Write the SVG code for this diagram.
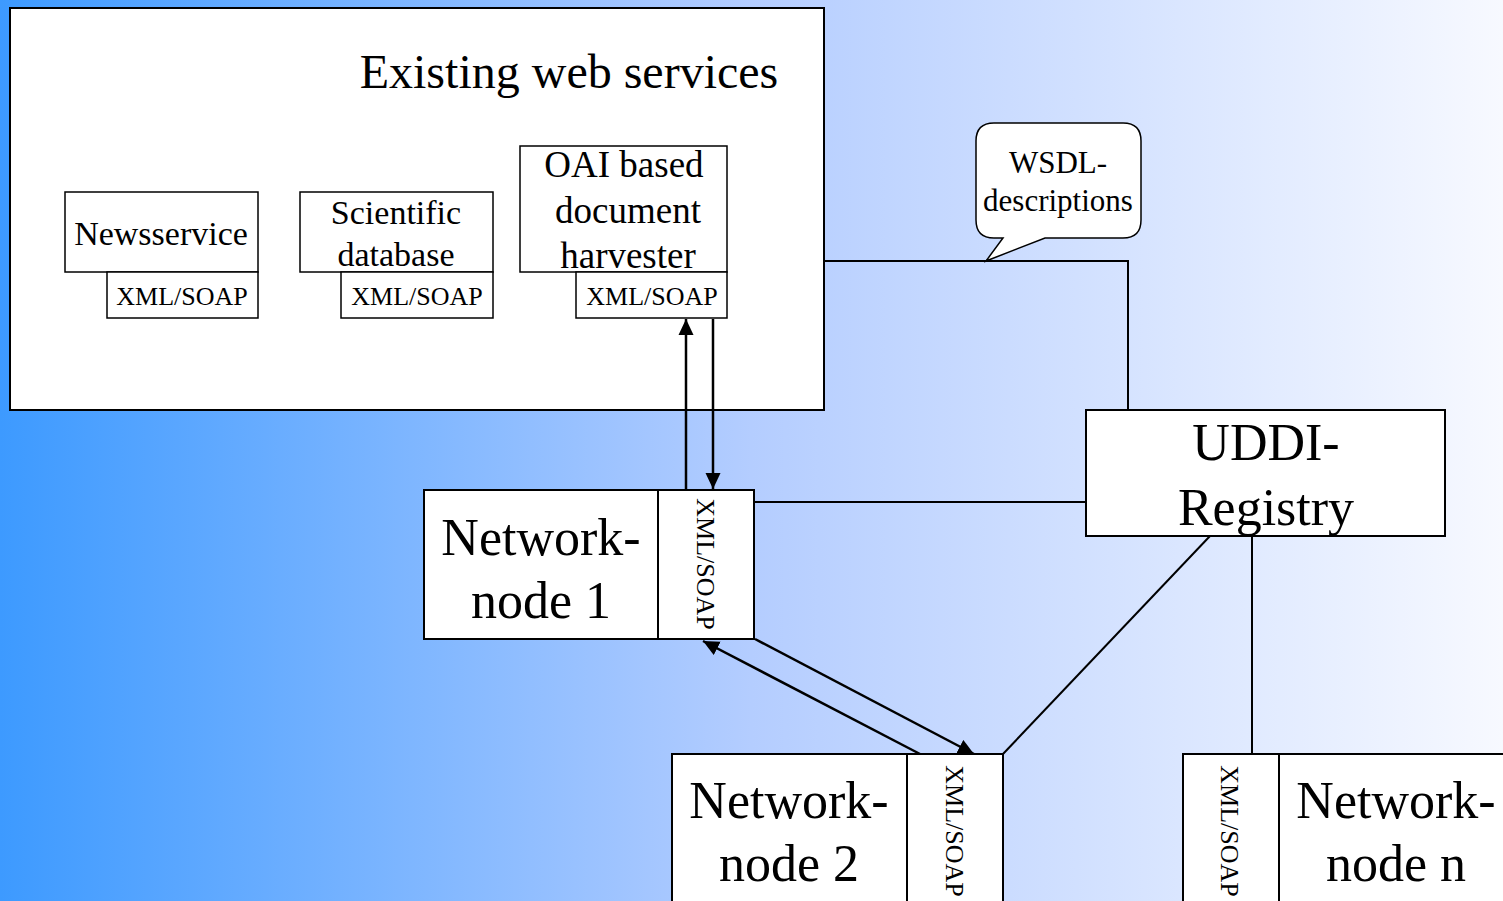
<svg xmlns="http://www.w3.org/2000/svg" width="1503" height="901" viewBox="0 0 1503 901">
<defs>
<linearGradient id="bg" x1="0" y1="0" x2="1" y2="0">
<stop offset="0" stop-color="#3d9aff"/>
<stop offset="0.5" stop-color="#b4cdff"/>
<stop offset="1" stop-color="#f7f9ff"/>
</linearGradient>
<marker id="ah" viewBox="0 0 16 16" refX="16" refY="8" markerWidth="16" markerHeight="16" markerUnits="userSpaceOnUse" orient="auto">
<path d="M0,0.5 L16,8 L0,15.5 Z" fill="#000"/>
</marker>
<style>
.box{fill:#fff;stroke:#000;stroke-width:2}
.sbox{fill:#fff;stroke:#000;stroke-width:1.5}
.t{fill:#000;text-anchor:middle}
.ln{fill:none;stroke:#000;stroke-width:2}
.ar{fill:none;stroke:#000;stroke-width:2.5;marker-end:url(#ah)}
</style>
</defs>
<rect x="0" y="0" width="1503" height="901" fill="url(#bg)"/>

<g font-family="Liberation Serif, serif">
<g id="existing-web-services">
<rect class="box" x="10" y="8" width="814" height="402"/>
<text class="t" x="569" y="88" font-size="48">Existing web services</text>
</g>

<g id="newsservice">
<rect class="sbox" x="65" y="192" width="193" height="80"/>
<text class="t" x="161" y="245" font-size="34">Newsservice</text>
<rect class="sbox" x="107" y="272" width="151" height="46"/>
<text class="t" x="182" y="305" font-size="26">XML/SOAP</text>
</g>

<g id="scientific-database">
<rect class="sbox" x="300" y="192" width="193" height="80"/>
<text class="t" x="396" y="224" font-size="34">Scientific</text>
<text class="t" x="396" y="266" font-size="34">database</text>
<rect class="sbox" x="341" y="272" width="152" height="46"/>
<text class="t" x="417" y="305" font-size="26">XML/SOAP</text>
</g>

<g id="oai-harvester">
<rect class="sbox" x="520" y="146" width="207" height="126"/>
<text class="t" x="624" y="177" font-size="37">OAI based</text>
<text class="t" x="628" y="223" font-size="37">document</text>
<text class="t" x="628" y="268" font-size="37">harvester</text>
<rect class="sbox" x="576" y="272" width="151" height="46"/>
<text class="t" x="652" y="305" font-size="26">XML/SOAP</text>
</g>

<g id="wsdl-descriptions">
<path d="M994,123 H1123 Q1141,123 1141,141 V220 Q1141,238 1123,238 H1045 L986,261 L1003,238 H994 Q976,238 976,220 V141 Q976,123 994,123 Z" fill="#fff" stroke="#000" stroke-width="1.5"/>
<text class="t" x="1058" y="173" font-size="31">WSDL-</text>
<text class="t" x="1058" y="211" font-size="31">descriptions</text>
</g>

<g id="uddi-registry">
<rect class="box" x="1086" y="410" width="359" height="126"/>
<text class="t" x="1266" y="460" font-size="52">UDDI-</text>
<text class="t" x="1266" y="525" font-size="52">Registry</text>
</g>

<g id="network-node-1">
<rect class="box" x="424" y="490" width="330" height="149"/>
<line class="ln" x1="658" y1="490" x2="658" y2="639"/>
<text class="t" x="541" y="555" font-size="52">Network-</text>
<text class="t" x="541" y="618" font-size="52">node 1</text>
<text class="t" font-size="26" transform="translate(697,564) rotate(90)">XML/SOAP</text>
</g>

<g id="network-node-2">
<rect class="box" x="672" y="754" width="331" height="160"/>
<line class="ln" x1="907" y1="754" x2="907" y2="914"/>
<text class="t" x="789" y="818" font-size="52">Network-</text>
<text class="t" x="789" y="881" font-size="52">node 2</text>
<text class="t" font-size="26" transform="translate(946,831) rotate(90)">XML/SOAP</text>
</g>

<g id="network-node-n">
<rect class="box" x="1183" y="754" width="340" height="160"/>
<line class="ln" x1="1279" y1="754" x2="1279" y2="914"/>
<text class="t" x="1396" y="818" font-size="52">Network-</text>
<text class="t" x="1396" y="881" font-size="52">node n</text>
<text class="t" font-size="26" transform="translate(1221,831) rotate(90)">XML/SOAP</text>
</g>
</g>

<g id="connectors">
<polyline class="ln" points="824,261 1128,261 1128,410"/>
<line class="ln" x1="754" y1="502" x2="1086" y2="502"/>
<line class="ln" x1="1210" y1="536" x2="1003" y2="754"/>
<line class="ln" x1="1252" y1="536" x2="1252" y2="754"/>
<line class="ar" x1="686" y1="490" x2="686" y2="319"/>
<line class="ar" x1="713" y1="319" x2="713" y2="489"/>
<line class="ar" x1="755" y1="639" x2="974" y2="754"/>
<line class="ar" x1="920" y1="754" x2="703" y2="641"/>
</g>
</svg>
